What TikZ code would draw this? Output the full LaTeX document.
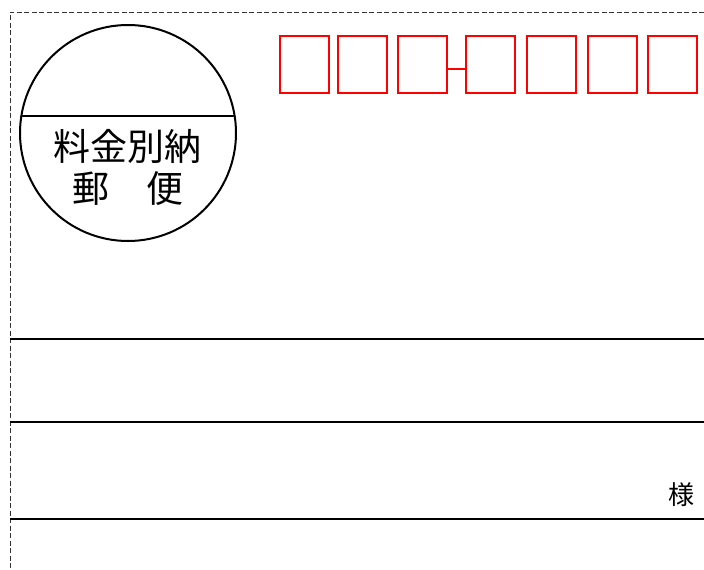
\documentclass[tikz,border=0pt]{standalone}
\usepackage{fontspec}
\newfontfamily\jpfont{Noto Sans CJK JP}
\begin{document}
\begin{tikzpicture}[x=1pt,y=-1pt,
  cutline/.style={draw=black!80,line width=0.8pt,dash pattern=on 5pt off 2.5pt},
  rule/.style={draw=black,line width=2pt},
  zipbox/.style={draw=red,line width=2pt,minimum width=49pt,minimum height=57pt,inner sep=0pt,anchor=north west},
  stamp/.style={draw=black,line width=2pt,circle,minimum size=216pt,inner sep=0pt},
  jptext/.style={font=\jpfont\fontsize{37}{42}\selectfont,inner sep=0pt}]
\useasboundingbox (0,0) rectangle (704,570);
% cut lines
\coordinate (tl) at (10,12);
\coordinate (tr) at (704,12);
\coordinate (bl) at (10,570);
\draw[cutline] (tr) -- (tl) -- (bl);
% stamp circle
\node[stamp] (c) at (128,133) {};
\coordinate (chl) at (21,116);
\coordinate (chr) at (235,116);
\draw[rule] (chl) -- (chr);
\node[jptext] (t1) at (127,146) {料金別納};
\node[jptext] (t2) at (128,189) {郵　便};
% zip boxes
\node[zipbox] (z1) at (279,35) {};
\node[zipbox] (z2) at (337,35) {};
\node[zipbox] (z3) at (397,35) {};
\node[zipbox] (z4) at (465,35) {};
\node[zipbox] (z5) at (526,35) {};
\node[zipbox] (z6) at (587,35) {};
\node[zipbox] (z7) at (647,35) {};
\draw[red,line width=2pt] ([yshift=-4pt]z3.east) -- ([yshift=-4pt]z4.west);
% address rules
\coordinate (l1a) at (10,339); \coordinate (l1b) at (704,339);
\coordinate (l2a) at (10,422); \coordinate (l2b) at (704,422);
\coordinate (l3a) at (10,519); \coordinate (l3b) at (704,519);
\draw[rule] (l1a) -- (l1b);
\draw[rule] (l2a) -- (l2b);
\draw[rule] (l3a) -- (l3b);
\node[font=\jpfont\fontsize{26}{30}\selectfont,inner sep=0pt] (sama) at (681,495) {様};
\end{tikzpicture}
\end{document}
